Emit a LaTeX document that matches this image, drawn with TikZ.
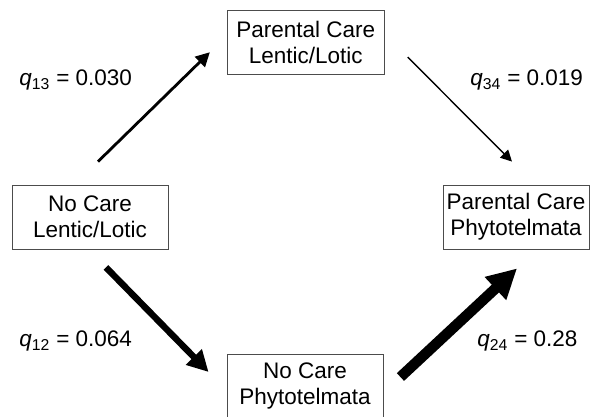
\documentclass[tikz,border=0pt]{standalone}
\usepackage{fontspec}
\setmainfont{Liberation Sans}
\usetikzlibrary{arrows.meta,calc}
\begin{document}
\begin{tikzpicture}[x=0.025cm,y=-0.025cm,
		state/.style={draw=black!70,line width=0.6pt,minimum height=1.6cm,align=center,inner sep=0pt,font=\fontsize{16}{18.4}\selectfont},
		rate/.style={anchor=west,inner sep=0pt,font=\fontsize{16}{18.4}\selectfont},
		arr/.style={-{Triangle[length=#1,width=#1]}}]
		\useasboundingbox (0,0) rectangle (600,416);
		% states
		\node [state,minimum width=3.925cm] (pcl) at (305.8,42.2) {Parental Care\\Lentic/Lotic};
		\node [state,minimum width=3.9cm] (ncl) at (90,217) {No Care\\Lentic/Lotic};
		\node [state,minimum width=3.65cm] (pcp) at (516,217) {Parental Care\\Phytotelmata};
		\node [state,minimum width=3.9cm] (ncp) at (305,386) {No Care\\Phytotelmata};
		% transitions
		\draw [arr=10pt,line width=2pt] ($(ncl.north)+(8,-23)$) -- ($(pcl.west)+(-17,10)$);
		\draw [arr=8pt,line width=1pt] ($(pcl.east)+(23,15)$) -- ($(pcp.north)+(-4,-23)$);
		\draw [arr=15pt,line width=4.6pt] ($(ncl.south)+(16,18)$) -- ($(ncp.west)+(-18,-14)$);
		\draw [arr=21pt,line width=7.5pt] ($(ncp.east)+(17,-9)$) -- ($(pcp.south)+(1,19)$);
		% rates
		\node [rate] (r13) at (19,80) {\textit{q}\textsubscript{13} = 0.030};
		\node [rate] (r34) at (470,80) {\textit{q}\textsubscript{34} = 0.019};
		\node [rate] (r12) at (19,341) {\textit{q}\textsubscript{12} = 0.064};
		\node [rate] (r24) at (477,341) {\textit{q}\textsubscript{24} = 0.28};
\end{tikzpicture}
\end{document}
